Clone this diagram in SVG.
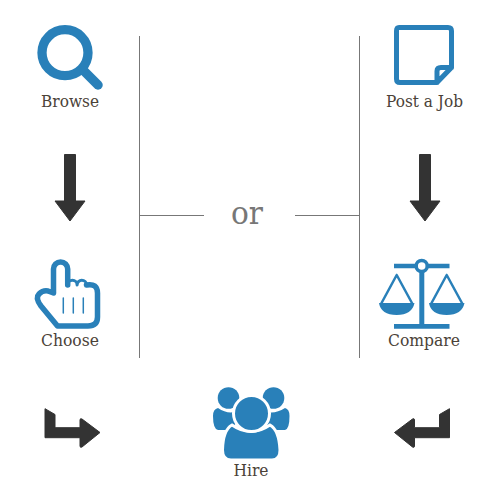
<svg xmlns="http://www.w3.org/2000/svg" width="500" height="500" viewBox="0 0 500 500">
<style>
.b{fill:#2980b9}
.o{fill:none;stroke:#2980b9;stroke-linejoin:round;stroke-linecap:round}
.k{fill:#333;stroke:#333;stroke-width:1;stroke-linejoin:round}
.l{fill:none;stroke:#777;stroke-width:1}
text{font-family:"DejaVu Serif","Liberation Serif",serif;fill:#4b4238;text-anchor:middle;font-size:16px}
.w{stroke:#fff;stroke-width:3}
</style>
<g id="connectors">
<path class="l" d="M139.500 36V358M359.500 36V358M140 215.500H204M295 215.500H359"/>
<path id="down-left" class="k" d="M64.500 154.500H75.500V201H85L70 221L55 201H64.500Z"/>
<path id="down-right" class="k" d="M419.500 154.500H430.500V201H440L425 221L410 201H419.500Z"/>
<path id="elbow-left" class="k" d="M45 408.700L55 414.500V427.700H80V420Q80 418 82 419L100 432.500L82 447Q80 448 80 446V437.700H45Z"/>
<path id="elbow-right" class="k" d="M449.500 408.700L439.500 414.500V427.700H414.500V420Q414.500 418 412.500 419L394.500 432.500L412.500 447Q414.500 448 414.500 446V437.700H449.500Z"/>
</g>
<g id="browse">
<circle class="o" cx="65" cy="52.700" r="23" stroke-width="9.300"/>
<path class="o" stroke-width="9.500" d="M84 71L98 85"/>
<text x="70" y="107" textLength="58" lengthAdjust="spacingAndGlyphs">Browse</text>
</g>
<g id="post">
<path class="o" stroke-width="5" d="M399 27.500H448Q451.500 27.500 451.500 31V67.500L437 82.500H400Q396.500 82.500 396.500 79V31Q396.500 27.500 399 27.500ZM437 82.500V71Q437 67.500 441 67.500H451.500"/>
<text x="424.500" y="107" textLength="77" lengthAdjust="spacingAndGlyphs">Post a Job</text>
</g>
<g id="choose">
<path class="o" stroke-width="5.500" d="M53.500 293V269A7.100 7.100 0 0 1 67.700 269V285M86.500 285Q97.500 283 97.500 293V317Q97.500 326 88 326H57.500L41 306Q35 298 39 294Q43 290 48 291L53.500 293"/>
<path class="o" stroke-width="3" d="M67.700 285A4.700 4.700 0 0 1 77.100 285A4.700 4.700 0 0 1 86.500 285"/>
<path class="o" stroke-width="1.500" stroke-linecap="butt" d="M63.300 298V313M73.300 298V313M83.300 298V313"/>
<text x="70" y="346" textLength="58" lengthAdjust="spacingAndGlyphs">Choose</text>
</g>
<g id="compare">
<path class="b" d="M394 263.700H449.500V268.300H394ZM394 324H449.500V328.700H394ZM419.300 268H424.300V324H419.300Z"/>
<circle cx="421.700" cy="266" r="5.500" fill="#fff" stroke="#2980b9" stroke-width="3.500"/>
<path class="o" stroke-width="2.500" d="M396.700 275L381 304M396.700 275L412.500 304M446.700 275L431 304M446.700 275L462.500 304"/>
<path class="b" d="M379 303H414.500Q412 315 396.700 315Q381 315 379 303ZM429 303H464.500Q462 315 446.700 315Q431 315 429 303Z"/>
<text x="424" y="346" textLength="72" lengthAdjust="spacingAndGlyphs">Compare</text>
</g>
<g id="hire">
<circle class="b" cx="228.500" cy="398" r="10.800"/>
<circle class="b" cx="273.500" cy="398" r="10.800"/>
<path class="b" d="M218 408Q213 409 213 416Q213 429 218 430H232L242 412L238 411Q228 415 218 408ZM285 408Q289.500 409 289.500 416Q289.500 429 285 430H270L260 412L264 411Q274 415 285 408Z"/>
<path class="b w" d="M232 425Q223 430 222.500 450Q222.500 460 231 460H272Q280 460 280 450Q279 430 270 425Q251 438 232 425Z"/>
<circle class="b w" cx="251.500" cy="413.500" r="18"/>
<text x="251" y="476" textLength="35" lengthAdjust="spacingAndGlyphs">Hire</text>
</g>
<text id="or" x="247" y="224" style="font-size:31px;fill:#777" textLength="32" lengthAdjust="spacingAndGlyphs">or</text>
</svg>
